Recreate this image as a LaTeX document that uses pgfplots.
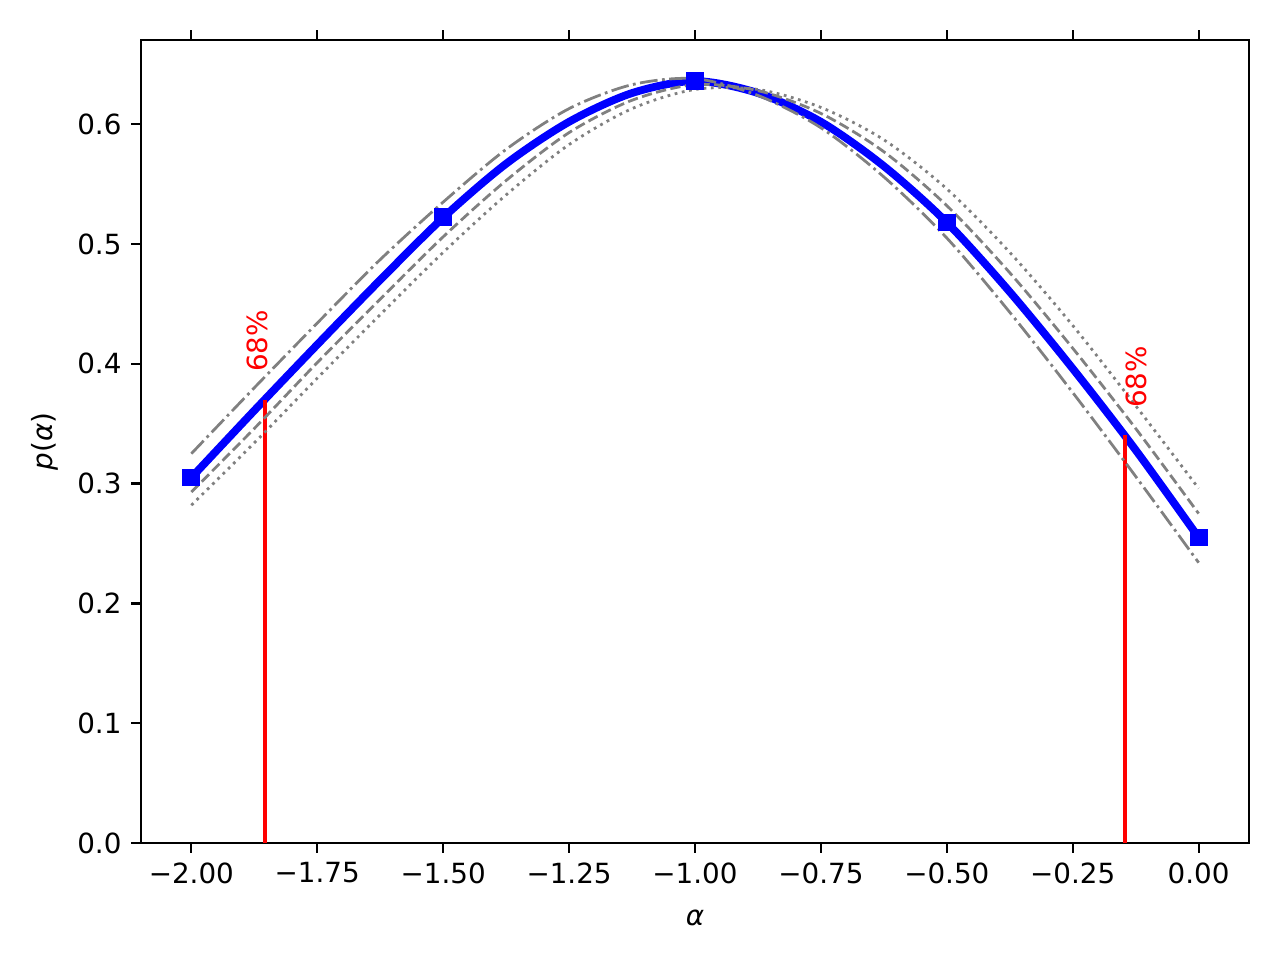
\documentclass[border=0pt]{standalone}
\usepackage{fontspec}
\setmainfont{DejaVu Sans}
\usepackage{pgfplots}
\pgfplotsset{compat=1.18}
\definecolor{mplgray}{RGB}{128,128,128}
\begin{document}
\begin{tikzpicture}
\begin{axis}[
  at={(0,0)}, anchor=south west,
  scale only axis, width=398.88pt, height=289.08pt,
  xmin=-2.1, xmax=0.1, ymin=0, ymax=0.6703,
  axis line style={line width=0.8pt},
  every tick/.style={black, line width=0.8pt},
  major tick length=3.5pt,
  tick align=outside,
  xtick pos=both, ytick pos=left,
  xtick={-2,-1.75,-1.5,-1.25,-1,-0.75,-0.5,-0.25,0},
  xticklabels={−2.00,−1.75,−1.50,−1.25,−1.00,−0.75,−0.50,−0.25,0.00},
  ytick={0,0.1,0.2,0.3,0.4,0.5,0.6},
  yticklabels={0.0,0.1,0.2,0.3,0.4,0.5,0.6},
  ticklabel style={font=\fontsize{10}{12}\selectfont},
  xlabel={\textit{α}}, ylabel={\textit{p}(\textit{α})},
  label style={font=\fontsize{10}{12}\selectfont},
  xlabel style={yshift=-2.5pt},
]
% main curve
\addplot[blue, line width=2.8pt, line join=round, no markers, smooth] coordinates {
(-2.000,0.305) (-1.875,0.361) (-1.750,0.416) (-1.625,0.470) (-1.500,0.522)
(-1.375,0.567) (-1.250,0.602) (-1.125,0.626) (-1.000,0.636) (-0.875,0.626)
(-0.750,0.602) (-0.625,0.565) (-0.500,0.518) (-0.375,0.460) (-0.250,0.396)
(-0.125,0.328) (0.000,0.255)};
\addplot[only marks, mark=square*, mark size=3pt, blue] coordinates {
(-2.0,0.305) (-1.5,0.5225) (-1.0,0.636) (-0.5,0.518) (0.0,0.255)};
% 68% bounds
\addplot[red, line width=1.5pt] coordinates {(-1.8533,0) (-1.8533,0.3698)};
\addplot[red, line width=1.5pt] coordinates {(-0.1467,0) (-0.1467,0.3406)};
% grey variants
\addplot[mplgray, line width=1pt, smooth, dash pattern=on 6.4pt off 1.6pt on 1pt off 1.6pt] coordinates {
(-2.000,0.325) (-1.875,0.380) (-1.750,0.434) (-1.625,0.487) (-1.500,0.535)
(-1.375,0.579) (-1.250,0.613) (-1.125,0.633) (-1.000,0.638) (-0.875,0.624)
(-0.750,0.597) (-0.625,0.556) (-0.500,0.505) (-0.375,0.443) (-0.250,0.376)
(-0.125,0.306) (0.000,0.234)};
\addplot[mplgray, line width=1pt, smooth, dash pattern=on 3.7pt off 1.6pt] coordinates {
(-2.000,0.293) (-1.875,0.346) (-1.750,0.401) (-1.625,0.454) (-1.500,0.506)
(-1.375,0.553) (-1.250,0.593) (-1.125,0.620) (-1.000,0.633) (-0.875,0.628)
(-0.750,0.609) (-0.625,0.577) (-0.500,0.532) (-0.375,0.476) (-0.250,0.413)
(-0.125,0.346) (0.000,0.275)};
\addplot[mplgray, line width=1pt, smooth, dash pattern=on 1pt off 1.65pt] coordinates {
(-2.000,0.282) (-1.875,0.334) (-1.750,0.388) (-1.625,0.441) (-1.500,0.493)
(-1.375,0.541) (-1.250,0.583) (-1.125,0.613) (-1.000,0.629) (-0.875,0.629)
(-0.750,0.614) (-0.625,0.587) (-0.500,0.546) (-0.375,0.493) (-0.250,0.432)
(-0.125,0.365) (0.000,0.296)};
\node[red, rotate=90, font=\fontsize{10}{12}\selectfont] at (axis cs:-1.869,0.419) {68\%};
\node[red, rotate=90, font=\fontsize{10}{12}\selectfont] at (axis cs:-0.123,0.389) {68\%};
\end{axis}
\pgfresetboundingbox
\path[use as bounding box] (-50.76pt,-42.12pt) rectangle (410.04pt,303.48pt);
\end{tikzpicture}
\end{document}
